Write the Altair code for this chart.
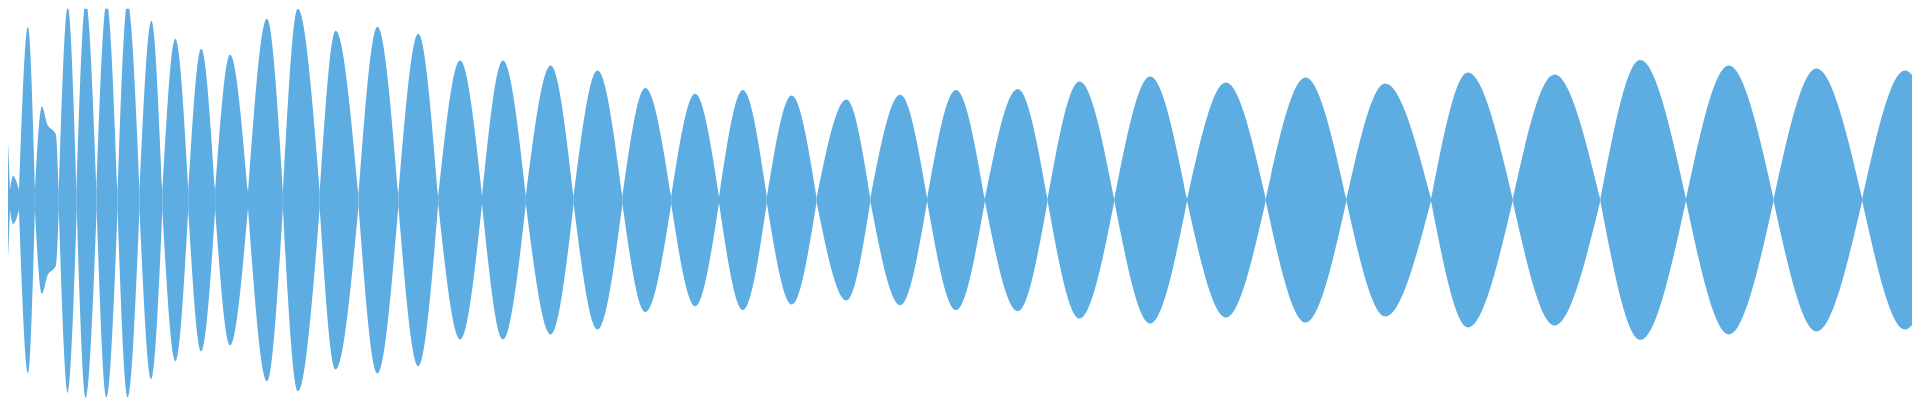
import altair as alt
import pandas as pd

# Envelope of the waveform (t in px-like time units, amp in -1..1)
crossing_t = [-10, 10, 19, 35, 59, 77, 97, 118, 140, 163,
              189, 216, 249, 284, 321, 360, 400, 440, 484, 528,
              576, 625, 674, 722, 770, 820, 874, 931, 989, 1052,
              1119, 1192, 1271, 1352, 1437, 1519, 1607, 1693, 1781, 1870,
              1958]
crossing_floor = [0.05, 0.05, 0.05, 0.05, 0.05, 0.05, 0.05, 0.05, 0.05, 0.05,
                  0.05, 0.05, 0.04, 0.04, 0.04, 0.03, 0.03, 0.02, 0.02, 0.02,
                  0.02, 0.02, 0.02, 0.015, 0.015, 0.01, 0.008, 0.008, 0.006, 0.006,
                  0.005, 0.005, 0.005, 0.005, 0.005, 0.005, 0.005, 0.005, 0.005, 0.005,
                  0.005]
peak_t = [1, 13, 28, 42, 68, 86, 107, 128, 152, 176,
          202, 231, 268, 299, 337, 379, 420, 462, 505, 553,
          600, 648, 698, 746, 795, 850, 904, 960, 1022, 1084,
          1155, 1231, 1311, 1391, 1474, 1561, 1647, 1736, 1824, 1913]
peak_amp = [0.78, 0.12, 0.87, 0.47, 0.97, 0.995, 0.99, 0.99, 0.90, 0.81,
            0.76, 0.73, 0.91, 0.96, 0.85, 0.87, 0.835, 0.70, 0.70, 0.675,
            0.65, 0.563, 0.533, 0.553, 0.525, 0.505, 0.528, 0.553, 0.558, 0.595,
            0.62, 0.59, 0.615, 0.585, 0.64, 0.63, 0.703, 0.675, 0.66, 0.65]
shoulder_lobe = [1, 3, 3, 3]
shoulder_t = [17, 48, 53, 56]
shoulder_amp = [0.085, 0.375, 0.35, 0.33]

rows = []
for i in range(len(peak_t)):
    pts = [(crossing_t[i], crossing_floor[i]), (peak_t[i], peak_amp[i])]
    pts += [(t, a) for l, t, a in zip(shoulder_lobe, shoulder_t, shoulder_amp) if l == i]
    pts.append((crossing_t[i + 1], crossing_floor[i + 1]))
    for t, a in sorted(pts):
        rows.append({"lobe": i, "t": t, "amp": a, "neg": -a})
df = pd.DataFrame(rows)

chart = (
    alt.Chart(df)
    .mark_area(interpolate="monotone", orient="vertical", color="#5DADE2",
               opacity=1, clip=True)
    .encode(
        x=alt.X("t:Q", scale=alt.Scale(domain=[8, 1920], nice=False, zero=False), axis=None),
        y=alt.Y("amp:Q", scale=alt.Scale(domain=[-1, 0.96], nice=False, zero=False),
                axis=None, stack=None),
        y2="neg:Q",
        detail="lobe:N",
    )
    .properties(width=1912, height=392, padding=0, background="white")
    .configure_view(strokeWidth=0)
)

chart.save("out.html", embed_options={"renderer": "svg", "actions": False})
